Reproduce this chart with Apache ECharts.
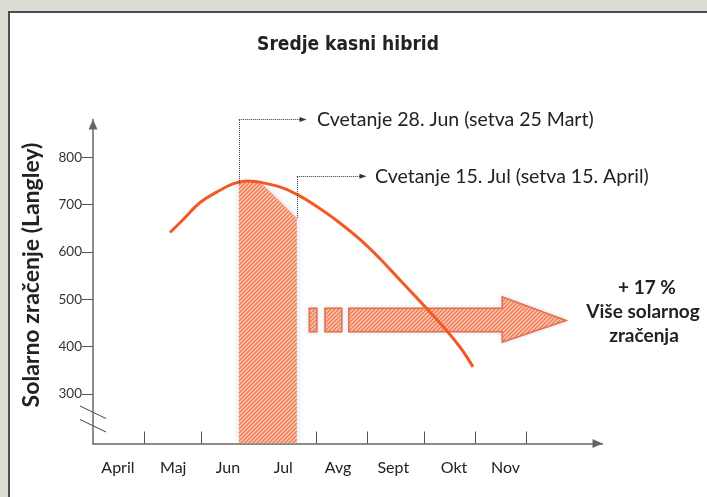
<!DOCTYPE html>
<html>
<head>
<meta charset="utf-8">
<script src="https://cdn.jsdelivr.net/npm/echarts@6/dist/echarts.min.js"></script>
<style>
  html, body { margin: 0; padding: 0; background: #dcdcd5; }
  #frame { position: absolute; left: 8px; top: 11px; width: 697px; height: 484px;
           background: #fff; border-left: 2px solid #4d4d4d; border-top: 2px solid #4d4d4d; }
  #chart { position: absolute; left: 0; top: 0; width: 707px; height: 497px; }
</style>
</head>
<body>
<div id="frame"></div>
<div id="chart"></div>
<script>
// x axis is in months, 0 = start of April
const monthLabels = ['April', 'Maj', 'Jun', 'Jul', 'Avg', 'Sept', 'Okt', 'Nov'];
const monthLabelPos = [0.46, 1.48, 2.49, 3.51, 4.52, 5.54, 6.66, 7.61];
const monthTickPos = [0.95, 2.0, 3.06, 4.12, 5.06, 6.12, 7.06, 8.0];
const radTicks = [300, 400, 500, 600, 700, 800];

// solarno zracenje (Langley)
const radMonth = [1.42, 1.66, 1.97, 2.29, 2.58, 2.84, 3.14, 3.51, 3.82, 4.13, 4.50, 4.93, 5.30, 5.66, 6.03, 6.40, 6.77, 7.01];
const radValue = [641, 668, 704, 727, 744, 750, 746, 735, 718, 696, 666, 626, 585, 541, 496, 450, 399, 357];

// period between the two flowering dates (hatched)
const bloomMonth = [2.69, 2.84, 3.12, 3.76];
const bloomValue = [745, 749, 744, 672];

// "Cvetanje" callouts: [month, from value, to value, arrow end month]
const callouts = [
  { text: 'Cvetanje 28. Jun (setva 25 Mart)', x: 2.69, from: 746, to: 880, end: 3.875, gap: 14 },
  { text: 'Cvetanje 15. Jul (setva 15. April)', x: 3.76, from: 672, to: 760, end: 4.98, gap: 12 }
];

// big "+17 %" arrow outline, in axis units
const gainArrow = { x0: 3.99, x1: 4.13, x2: 4.28, x3: 4.59, body: 4.72, head: 7.55, tip: 8.73,
                    top: 481, bottom: 431, headTop: 505, headBottom: 409, mid: 455 };

const FONT = 'Lato, "Open Sans", sans-serif';

function makeHatch(bg, fg) {
  const c = document.createElement('canvas');
  c.width = 4; c.height = 4;
  const g = c.getContext('2d');
  g.fillStyle = bg; g.fillRect(0, 0, 4, 4);
  g.strokeStyle = fg; g.lineWidth = 1.4;
  g.beginPath();
  g.moveTo(0, 4); g.lineTo(4, 0);
  g.moveTo(-1, 1); g.lineTo(1, -1);
  g.moveTo(3, 5); g.lineTo(5, 3);
  g.stroke();
  return c;
}
const hatch = { image: makeHatch('#fbcab6', '#f07b52'), repeat: 'repeat' };

const chart = echarts.init(document.getElementById('chart'));

const markData = [];
callouts.forEach(c => {
  markData.push([{ coord: [c.x, c.from], symbol: 'none' }, { coord: [c.x, c.to], symbol: 'none' }]);
  markData.push([
    { coord: [c.x, c.to], symbol: 'none' },
    { coord: [c.end, c.to], symbol: 'triangle', symbolSize: [5, 7],
      label: { show: true, position: 'end', distance: c.gap, formatter: c.text,
               color: '#222', fontSize: 19.5, fontFamily: FONT } }
  ]);
});

const option = {
  animation: false,
  backgroundColor: 'transparent',
  grid: { left: 93, right: 104.5, top: 119.5, bottom: 53.5 },
  xAxis: {
    type: 'value', min: 0, max: 9.4,
    splitLine: { show: false },
    axisLine: { onZero: false, symbol: ['none', 'triangle'], symbolSize: [9, 10], symbolOffset: [0, -5],
                lineStyle: { color: '#666', width: 1.5 } },
    axisTick: { show: true, inside: true, length: 12, customValues: monthTickPos,
                lineStyle: { color: '#555', width: 1 } },
    axisLabel: {
      customValues: monthLabelPos, margin: 16, color: '#222', fontSize: 16, fontFamily: FONT,
      formatter: v => {
        let best = 0;
        monthLabelPos.forEach((p, i) => { if (Math.abs(p - v) < Math.abs(monthLabelPos[best] - v)) best = i; });
        return monthLabels[best];
      }
    }
  },
  yAxis: {
    type: 'value', min: 195, max: 880,
    splitLine: { show: false },
    axisLine: { show: true, onZero: false, symbol: ['none', 'triangle'], symbolSize: [9, 10], symbolOffset: [0, -5],
                lineStyle: { color: '#666', width: 1.5 } },
    axisTick: { show: true, length: 11, customValues: radTicks, lineStyle: { color: '#555', width: 1 } },
    axisLabel: { customValues: radTicks, margin: 11, color: '#333', fontSize: 13.5, fontFamily: FONT }
  },
  series: [
    {
      type: 'line', z: 1, silent: true, symbol: 'none',
      data: bloomMonth.map((m, i) => [m, bloomValue[i]]),
      lineStyle: { width: 0 },
      areaStyle: { color: hatch, opacity: 1, origin: 'start',
                   shadowBlur: 8, shadowColor: 'rgba(150,175,195,0.4)' },
      markLine: {
        silent: true, animation: false,
        lineStyle: { type: 'dotted', color: '#333', width: 1 },
        label: { show: false },
        data: markData
      }
    },
    {
      type: 'custom', z: 2, silent: true,
      data: [[0]],
      renderItem: (params, api) => {
        const a = gainArrow;
        const p = (x, y) => api.coord([x, y]);
        const style = { fill: hatch, stroke: '#ee6a44', lineWidth: 1.5,
                        shadowBlur: 4, shadowColor: 'rgba(150,175,195,0.35)' };
        const box = (l, r) => ({ type: 'polygon', style,
          shape: { points: [p(l, a.top), p(r, a.top), p(r, a.bottom), p(l, a.bottom)] } });
        return {
          type: 'group',
          children: [
            box(a.x0, a.x1),
            box(a.x2, a.x3),
            { type: 'polygon', style, shape: { points: [
              p(a.body, a.top), p(a.head, a.top), p(a.head, a.headTop), p(a.tip, a.mid),
              p(a.head, a.headBottom), p(a.head, a.bottom), p(a.body, a.bottom)] } }
          ]
        };
      }
    },
    {
      type: 'line', z: 3, silent: true, symbol: 'none', smooth: 0.4,
      data: radMonth.map((m, i) => [m, radValue[i]]),
      lineStyle: { color: '#f15a24', width: 3 }
    }
  ],
  graphic: [
    { type: 'text', x: 348, y: 45, style: { text: 'Sredje kasni hibrid', align: 'center', verticalAlign: 'middle',
      font: 'bold 19px "DejaVu Sans Condensed", "DejaVu Sans", sans-serif', fill: '#222' } },
    { type: 'text', x: 32, y: 275, rotation: Math.PI / 2, style: { text: 'Solarno zračenje (Langley)',
      align: 'center', verticalAlign: 'middle', font: 'bold 23px ' + FONT, fill: '#222' } },
    { type: 'text', x: 647, y: 288, style: { text: '+ 17 %', align: 'center', verticalAlign: 'middle',
      font: 'bold 19px ' + FONT, fill: '#222' } },
    { type: 'text', x: 643, y: 312, style: { text: 'Više solarnog', align: 'center', verticalAlign: 'middle',
      font: 'bold 19px ' + FONT, fill: '#222' } },
    { type: 'text', x: 644, y: 336, style: { text: 'zračenja', align: 'center', verticalAlign: 'middle',
      font: 'bold 19px ' + FONT, fill: '#222' } },
    { type: 'line', shape: { x1: 80, y1: 406, x2: 106, y2: 418.5 }, style: { stroke: '#444', lineWidth: 1 } },
    { type: 'line', shape: { x1: 80, y1: 419.5, x2: 106, y2: 432 }, style: { stroke: '#444', lineWidth: 1 } }
  ]
};

chart.setOption(option);
</script>
</body>
</html>
